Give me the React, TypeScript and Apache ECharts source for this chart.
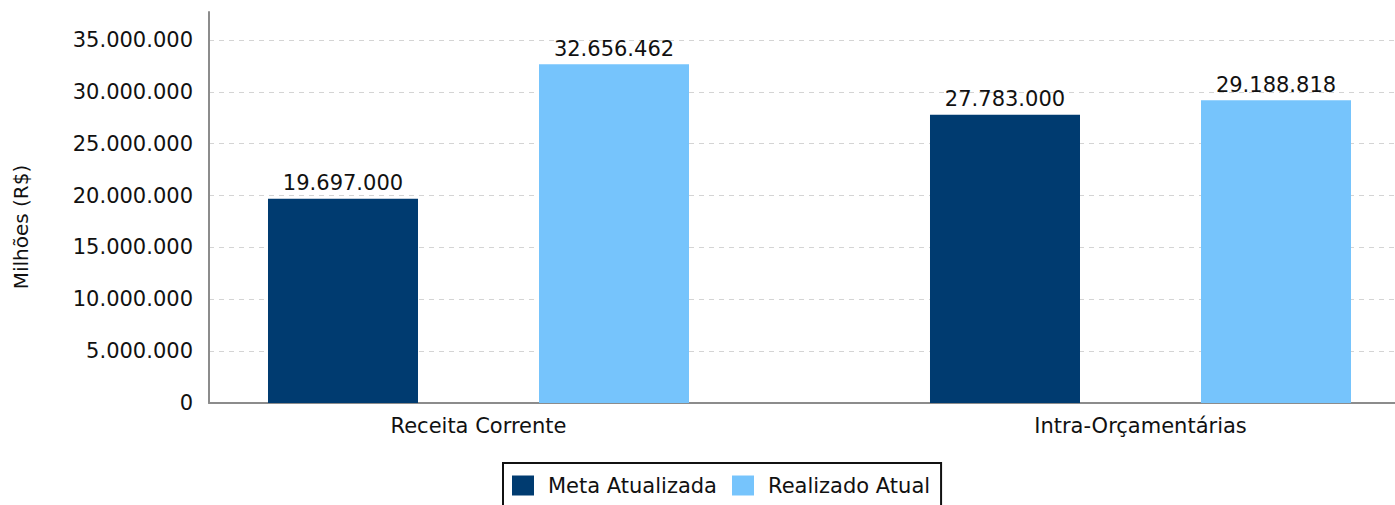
import React, { useEffect, useRef } from "react";
import * as echarts from "echarts";

const categories = ["Receita Corrente", "Intra-Orçamentárias"];
const seriesNames = ["Meta Atualizada", "Realizado Atual"];
const metaAtualizada = [19697000, 27783000];
const realizadoAtual = [32656462, 29188818];
const seriesColors = ["#003B70", "#76C4FC"];
const yAxisTitle = "Milhões (R$)";

const fmt = (v: number) => String(Math.round(v)).replace(/\B(?=(\d{3})+(?!\d))/g, ".");

const FONT = "DejaVu Sans";
const TXT = "#111111";
const FS = 21;
const Y_MAX = 37700000;

export default function App() {
  const ref = useRef<HTMLDivElement>(null);
  useEffect(() => {
    document.body.style.margin = "0";
    const chart = echarts.init(ref.current!, null, { renderer: "svg" });
    const labelStyle = {
      show: true,
      position: "top" as const,
      distance: 5,
      formatter: (p: any) => fmt(p.value),
      fontFamily: FONT,
      fontSize: FS,
      color: TXT,
    };
    chart.setOption({
      animation: false,
      backgroundColor: "#ffffff",
      textStyle: { fontFamily: FONT },
      grid: [
        { left: 209, top: 12, right: 0, bottom: 102, containLabel: false, outerBoundsMode: "none" },
        { left: 147.5, top: 12, width: 1324, bottom: 102, containLabel: false, outerBoundsMode: "none" },
      ],
      graphic: [
        {
          type: "text",
          x: 21,
          y: 227,
          rotation: Math.PI / 2,
          style: {
            text: yAxisTitle,
            fontFamily: FONT,
            fontSize: 20,
            fill: TXT,
            align: "center",
            verticalAlign: "middle",
          },
        },
      ],
      legend: {
        data: seriesNames,
        left: 503,
        top: 463,
        orient: "horizontal",
        itemWidth: 22,
        itemHeight: 20,
        itemGap: 15,
        padding: [12, 11, 12, 9],
        borderColor: "#111",
        borderWidth: 2,
        icon: "rect",
        textStyle: { fontFamily: FONT, fontSize: FS, color: TXT, padding: [0, 0, 0, 9] },
      },
      xAxis: [
        {
          gridIndex: 0,
          type: "value",
          min: 0,
          max: 1,
          axisLine: { show: true, onZero: false, lineStyle: { color: "#8c8c8c", width: 2 } },
          axisTick: { show: false },
          axisLabel: { show: false },
          splitLine: { show: false },
        },
        {
          gridIndex: 1,
          type: "category",
          data: categories,
          axisLine: { show: false },
          axisTick: { show: false },
          axisLabel: { fontFamily: FONT, fontSize: FS, color: TXT, margin: 12 },
          splitLine: { show: false },
        },
      ],
      yAxis: [
        {
          gridIndex: 0,
          type: "value",
          min: 0,
          max: Y_MAX,
          interval: 5000000,
          axisLine: { show: true, lineStyle: { color: "#8c8c8c", width: 2 } },
          axisTick: { show: false },
          axisLabel: {
            showMaxLabel: false,
            fontFamily: FONT,
            fontSize: FS,
            color: TXT,
            margin: 16,
            formatter: (v: number) => fmt(v),
          },
          splitLine: {
            show: true,
            showMinLine: false,
            showMaxLine: false,
            lineStyle: { color: "#d4d4d4", type: [5, 5], width: 1 },
          },
        },
        {
          gridIndex: 1,
          type: "value",
          min: 0,
          max: Y_MAX,
          interval: 5000000,
          axisLine: { show: false },
          axisTick: { show: false },
          axisLabel: { show: false },
          splitLine: { show: false },
        },
      ],
      series: [
        {
          name: seriesNames[0],
          type: "bar",
          xAxisIndex: 1,
          yAxisIndex: 1,
          data: metaAtualizada,
          barWidth: 150,
          barGap: "80.67%",
          itemStyle: { color: seriesColors[0] },
          label: labelStyle,
        },
        {
          name: seriesNames[1],
          type: "bar",
          xAxisIndex: 1,
          yAxisIndex: 1,
          data: realizadoAtual,
          barWidth: 150,
          barGap: "80.67%",
          itemStyle: { color: seriesColors[1] },
          label: labelStyle,
        },
      ],
    });
    return () => chart.dispose();
  }, []);
  return <div ref={ref} style={{ width: 1395, height: 505 }} />;
}
